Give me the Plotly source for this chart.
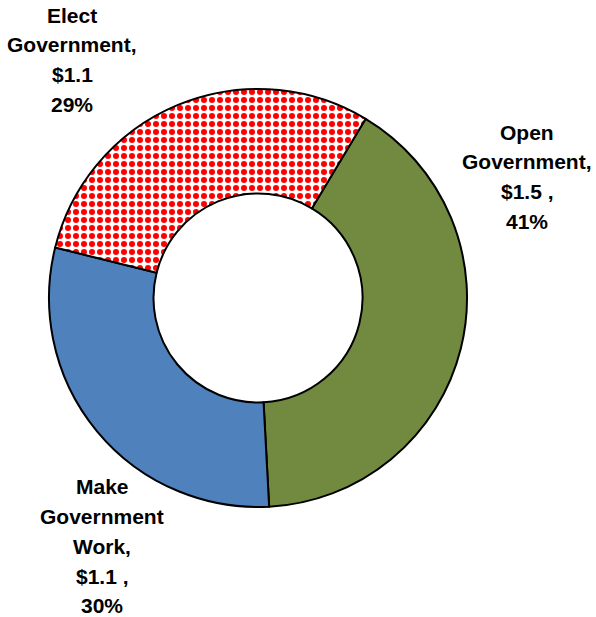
import plotly.graph_objects as go

# Funding by program area ($ millions)
categories = ["Open Government", "Make Government Work", "Elect Government"]
amounts = [1.5, 1.1, 1.1]
shares = ["41%", "30%", "29%"]
name_lines = [["Open", "Government,"], ["Make", "Government", "Work,"], ["Elect", "Government,"]]
amount_suffix = [" ,", " ,", ""]

slice_colors = ["#718A3F", "#4F81BD", "#FFFFFF"]
pattern_shapes = ["", "", "."]

W, H = 596, 617

fig = go.Figure(
    go.Pie(
        labels=categories,
        values=amounts,
        hole=0.5,
        sort=False,
        direction="clockwise",
        rotation=31,
        textinfo="none",
        showlegend=False,
        domain=dict(x=[0.0822, 0.7836], y=[0.1783, 0.8558]),
        marker=dict(
            colors=slice_colors,
            line=dict(color="black", width=2),
            pattern=dict(shape=pattern_shapes, fgcolor="#FF0000", bgcolor="#FFFFFF",
                         size=8, solidity=0.45),
        ),
    )
)

# label placement: centre x and first-line y in pixels, fixed line pitch
label_anchor = [(527, 132), (102, 487), (72, 15)]
line_pitch = 29.7

for lines, amt, suf, pct, (cx, y0) in zip(name_lines, amounts, amount_suffix, shares, label_anchor):
    all_lines = lines + [f"${amt:.1f}{suf}", pct]
    for i, line in enumerate(all_lines):
        fig.add_annotation(
            x=cx / W, y=1 - (y0 + i * line_pitch) / H, xref="paper", yref="paper",
            xanchor="center", yanchor="middle",
            text=line, showarrow=False, align="center",
            font=dict(family="Liberation Sans, Arial", size=21, color="black", weight="bold"),
        )

fig.update_layout(
    width=W, height=H,
    margin=dict(l=0, r=0, t=0, b=0),
    paper_bgcolor="white", plot_bgcolor="white",
)

fig.write_html("out.html")
